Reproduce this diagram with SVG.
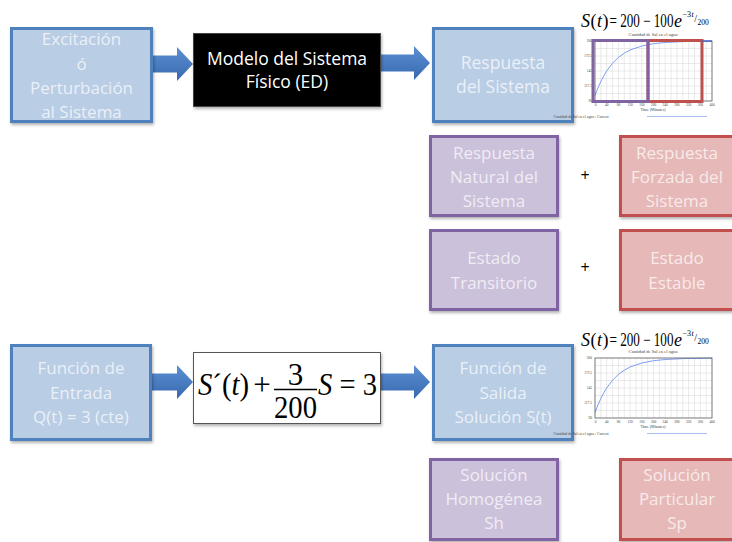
<svg xmlns="http://www.w3.org/2000/svg" width="732" height="542" viewBox="0 0 732 542">
<defs>
<style>
.bl{fill:#b9cde5;stroke:#4f81bd;stroke-width:3}
.pu{fill:#ccc1da;stroke:#8064a2;stroke-width:3}
.rd{fill:#e6b9b8;stroke:#c0504d;stroke-width:3}
.t{font-family:"Open Sans","Noto Sans",sans-serif;font-size:17px;fill:#ffffff;fill-opacity:0.72;text-anchor:middle}
.tw{font-family:"Open Sans","Noto Sans",sans-serif;font-size:17.5px;fill:#ffffff;text-anchor:middle}
.plus{font-family:"Open Sans","Noto Sans",sans-serif;font-size:16px;fill:#000;text-anchor:middle}
.eq{font-family:"Liberation Serif","Times New Roman",serif;font-size:31px;fill:#000}
.fm{font-family:"Liberation Serif","Times New Roman",serif;fill:#000}
.f18{font-size:18px}
.sup{font-size:8px}
.it{font-style:italic}
.sm{font-family:"Liberation Serif","Times New Roman",serif;fill:#444;text-anchor:middle}
.yl{font-family:"Liberation Serif","Times New Roman",serif;font-size:3.5px;fill:#444;text-anchor:end}
.grid{stroke:#d4d4d4;stroke-width:0.5;fill:none}
.arrow{fill:url(#ag)}
</style>
<linearGradient id="ag" x1="0" y1="0" x2="0" y2="1">
<stop offset="0" stop-color="#5b8fd2"/>
<stop offset="1" stop-color="#3869b0"/>
</linearGradient>
<filter id="sh" x="-10%" y="-10%" width="125%" height="130%">
<feDropShadow dx="1" dy="2" stdDeviation="1.5" flood-color="#000" flood-opacity="0.3"/>
</filter>
<g id="formula">
<text class="fm f18 it" x="581" y="27">S</text>
<text class="fm f18" x="590.5" y="27">(</text>
<text class="fm f18 it" x="597" y="27">t</text>
<text class="fm f18" x="602.5" y="27">)</text>
<text class="fm f18" x="609.5" y="27" textLength="64" lengthAdjust="spacingAndGlyphs">= 200 − 100</text>
<text class="fm f18 it" x="674" y="27">e</text>
<text class="fm sup" x="682.5" y="17">−3</text>
<text class="fm sup it" x="691.5" y="17">t</text>
<text class="fm" x="694.2" y="21.5" font-size="10">/</text>
<text class="fm" x="697.5" y="24.5" font-size="7.5">200</text>
</g>
<g id="chart">
<text class="sm" x="653" y="36" font-size="4.6">Cantidad de Sal en el agua</text>
<rect x="595" y="41" width="117" height="60" fill="#fff"/>
<path class="grid" d="M600.85,41V101M606.7,41V101M612.55,41V101M618.4,41V101M624.25,41V101M630.1,41V101M635.95,41V101M641.8,41V101M647.65,41V101M653.5,41V101M659.35,41V101M665.2,41V101M671.05,41V101M676.9,41V101M682.75,41V101M688.6,41V101M694.45,41V101M700.3,41V101M706.15,41V101M595,48.5H712M595,56H712M595,63.5H712M595,71H712M595,78.5H712M595,86H712M595,93.5H712"/>
<polyline fill="none" stroke="#7d9ef0" stroke-width="1" points="595,95.5 597.9,88.0 600.9,81.4 603.8,75.8 606.7,70.9 612.6,63.2 618.4,57.4 624.3,53.2 630.1,50.0 641.8,46.0 653.5,43.7 665.2,42.5 682.8,41.6 712,41.1"/>
<rect x="595" y="41" width="117" height="60" fill="none" stroke="#555" stroke-width="0.8"/>
<text class="yl" x="592" y="42.2">200</text>
<text class="yl" x="592" y="57.2">172.5</text>
<text class="yl" x="592" y="72.2">145</text>
<text class="yl" x="592" y="87.2">117.5</text>
<text class="yl" x="592" y="101.5">90</text>
<g class="sm" font-size="3.5">
<text x="595.5" y="105.5">0</text><text x="606.7" y="105.5">40</text><text x="618.4" y="105.5">80</text><text x="630.1" y="105.5">120</text><text x="641.8" y="105.5">160</text><text x="653.5" y="105.5">200</text><text x="665.2" y="105.5">240</text><text x="676.9" y="105.5">280</text><text x="688.6" y="105.5">320</text><text x="700.3" y="105.5">360</text><text x="712" y="105.5">400</text>
</g>
<text class="sm" x="653" y="110.5" font-size="4">Time (Minutes)</text>
<text class="sm" x="581" y="117.5" font-size="3.8" text-anchor="start">Cantidad de Sal en el agua : Current</text>
<line x1="647" y1="116.5" x2="707" y2="116.5" stroke="#a9bdf2" stroke-width="1"/>
</g>
</defs>
<rect width="732" height="542" fill="#fff"/>

<g id="connectors">
<path class="arrow" d="M153,55.5H177V47L193,64L177,81V72.5H153Z"/>
<path class="arrow" d="M381,54.5H414V46L430,63L414,80V71.5H381Z"/>
<path class="arrow" d="M152,373.5H177V365L193,382L177,399V390.5H152Z"/>
<path class="arrow" d="M381,373.5H414V365L430,382L414,399V390.5H381Z"/>
</g>

<g id="excitacion">
<rect class="bl" x="11.5" y="28.5" width="140" height="93" filter="url(#sh)"/>
<text class="t" x="81.5" y="45">Excitación</text>
<text class="t" x="81.5" y="70">ó</text>
<text class="t" x="81.5" y="94">Perturbación</text>
<text class="t" x="81.5" y="118">al Sistema</text>
</g>

<g id="modelo">
<rect x="193.5" y="33.5" width="187" height="73" fill="#000" stroke="#444" stroke-width="1" filter="url(#sh)"/>
<text class="tw" x="287" y="65">Modelo del Sistema</text>
<text class="tw" x="287" y="88">Físico (ED)</text>
</g>

<g id="respuesta">
<rect class="bl" x="433.5" y="28.5" width="139" height="93" filter="url(#sh)"/>
<text class="t" x="503" y="69" style="font-size:17.5px">Respuesta</text>
<text class="t" x="503" y="93" style="font-size:17.5px">del Sistema</text>
</g>

<g id="grafica1">
<use href="#formula"/>
<use href="#chart"/>
<rect x="648" y="40.5" width="54" height="61" fill="none" stroke="#c0504d" stroke-width="3"/>
<rect x="593" y="40.5" width="55" height="61" fill="none" stroke="#8064a2" stroke-width="3"/>
<line x1="702" y1="41.1" x2="712" y2="41.1" stroke="#3d62d8" stroke-width="1.2"/>
</g>

<g id="natural">
<rect class="pu" x="430.5" y="136.5" width="127" height="79" filter="url(#sh)"/>
<text class="t" x="494" y="159">Respuesta</text>
<text class="t" x="494" y="183">Natural del</text>
<text class="t" x="494" y="207">Sistema</text>
</g>
<text class="plus" x="585" y="181">+</text>
<g id="forzada">
<rect class="rd" x="620.5" y="136.5" width="118" height="79" filter="url(#sh)"/>
<text class="t" x="677" y="159">Respuesta</text>
<text class="t" x="677" y="183">Forzada del</text>
<text class="t" x="677" y="207">Sistema</text>
</g>

<g id="transitorio">
<rect class="pu" x="430.5" y="230.5" width="127" height="79" filter="url(#sh)"/>
<text class="t" x="494" y="264">Estado</text>
<text class="t" x="494" y="289">Transitorio</text>
</g>
<text class="plus" x="585" y="273">+</text>
<g id="estable">
<rect class="rd" x="620.5" y="230.5" width="118" height="79" filter="url(#sh)"/>
<text class="t" x="677" y="264">Estado</text>
<text class="t" x="677" y="289">Estable</text>
</g>

<g id="entrada">
<rect class="bl" x="11.5" y="345.5" width="139" height="94" filter="url(#sh)"/>
<text class="t" x="81" y="374">Función de</text>
<text class="t" x="81" y="399">Entrada</text>
<text class="t" x="81" y="423">Q(t) = 3 (cte)</text>
</g>

<g id="ecuacion">
<rect x="193.5" y="352.5" width="187" height="71" fill="#fff" stroke="#555" stroke-width="1" filter="url(#sh)"/>
<text class="eq" x="198" y="395" textLength="51" lengthAdjust="spacingAndGlyphs"><tspan font-style="italic">S</tspan>´(<tspan font-style="italic">t</tspan>)</text>
<text class="eq" x="262" y="395" text-anchor="middle">+</text>
<text class="eq" x="295.5" y="385" text-anchor="middle">3</text>
<line x1="274" y1="389.5" x2="317" y2="389.5" stroke="#000" stroke-width="1.3"/>
<text class="eq" x="295.5" y="418" text-anchor="middle" textLength="43" lengthAdjust="spacingAndGlyphs">200</text>
<text class="eq" x="318" y="395" textLength="59" lengthAdjust="spacingAndGlyphs"><tspan font-style="italic">S</tspan> = 3</text>
</g>

<g id="salida">
<rect class="bl" x="433.5" y="345.5" width="139" height="94" filter="url(#sh)"/>
<text class="t" x="503" y="374">Función de</text>
<text class="t" x="503" y="399">Salida</text>
<text class="t" x="503" y="423">Solución S(t)</text>
</g>

<g id="grafica2">
<use href="#formula" transform="translate(0,319)"/>
<use href="#chart" transform="translate(0,317)"/>
</g>

<g id="homogenea">
<rect class="pu" x="430.5" y="459.5" width="127" height="80" filter="url(#sh)"/>
<text class="t" x="494" y="481">Solución</text>
<text class="t" x="494" y="505">Homogénea</text>
<text class="t" x="494" y="529">Sh</text>
</g>

<g id="particular">
<rect class="rd" x="620.5" y="459.5" width="118" height="80" filter="url(#sh)"/>
<text class="t" x="677" y="481">Solución</text>
<text class="t" x="677" y="505">Particular</text>
<text class="t" x="677" y="529">Sp</text>
</g>
</svg>
